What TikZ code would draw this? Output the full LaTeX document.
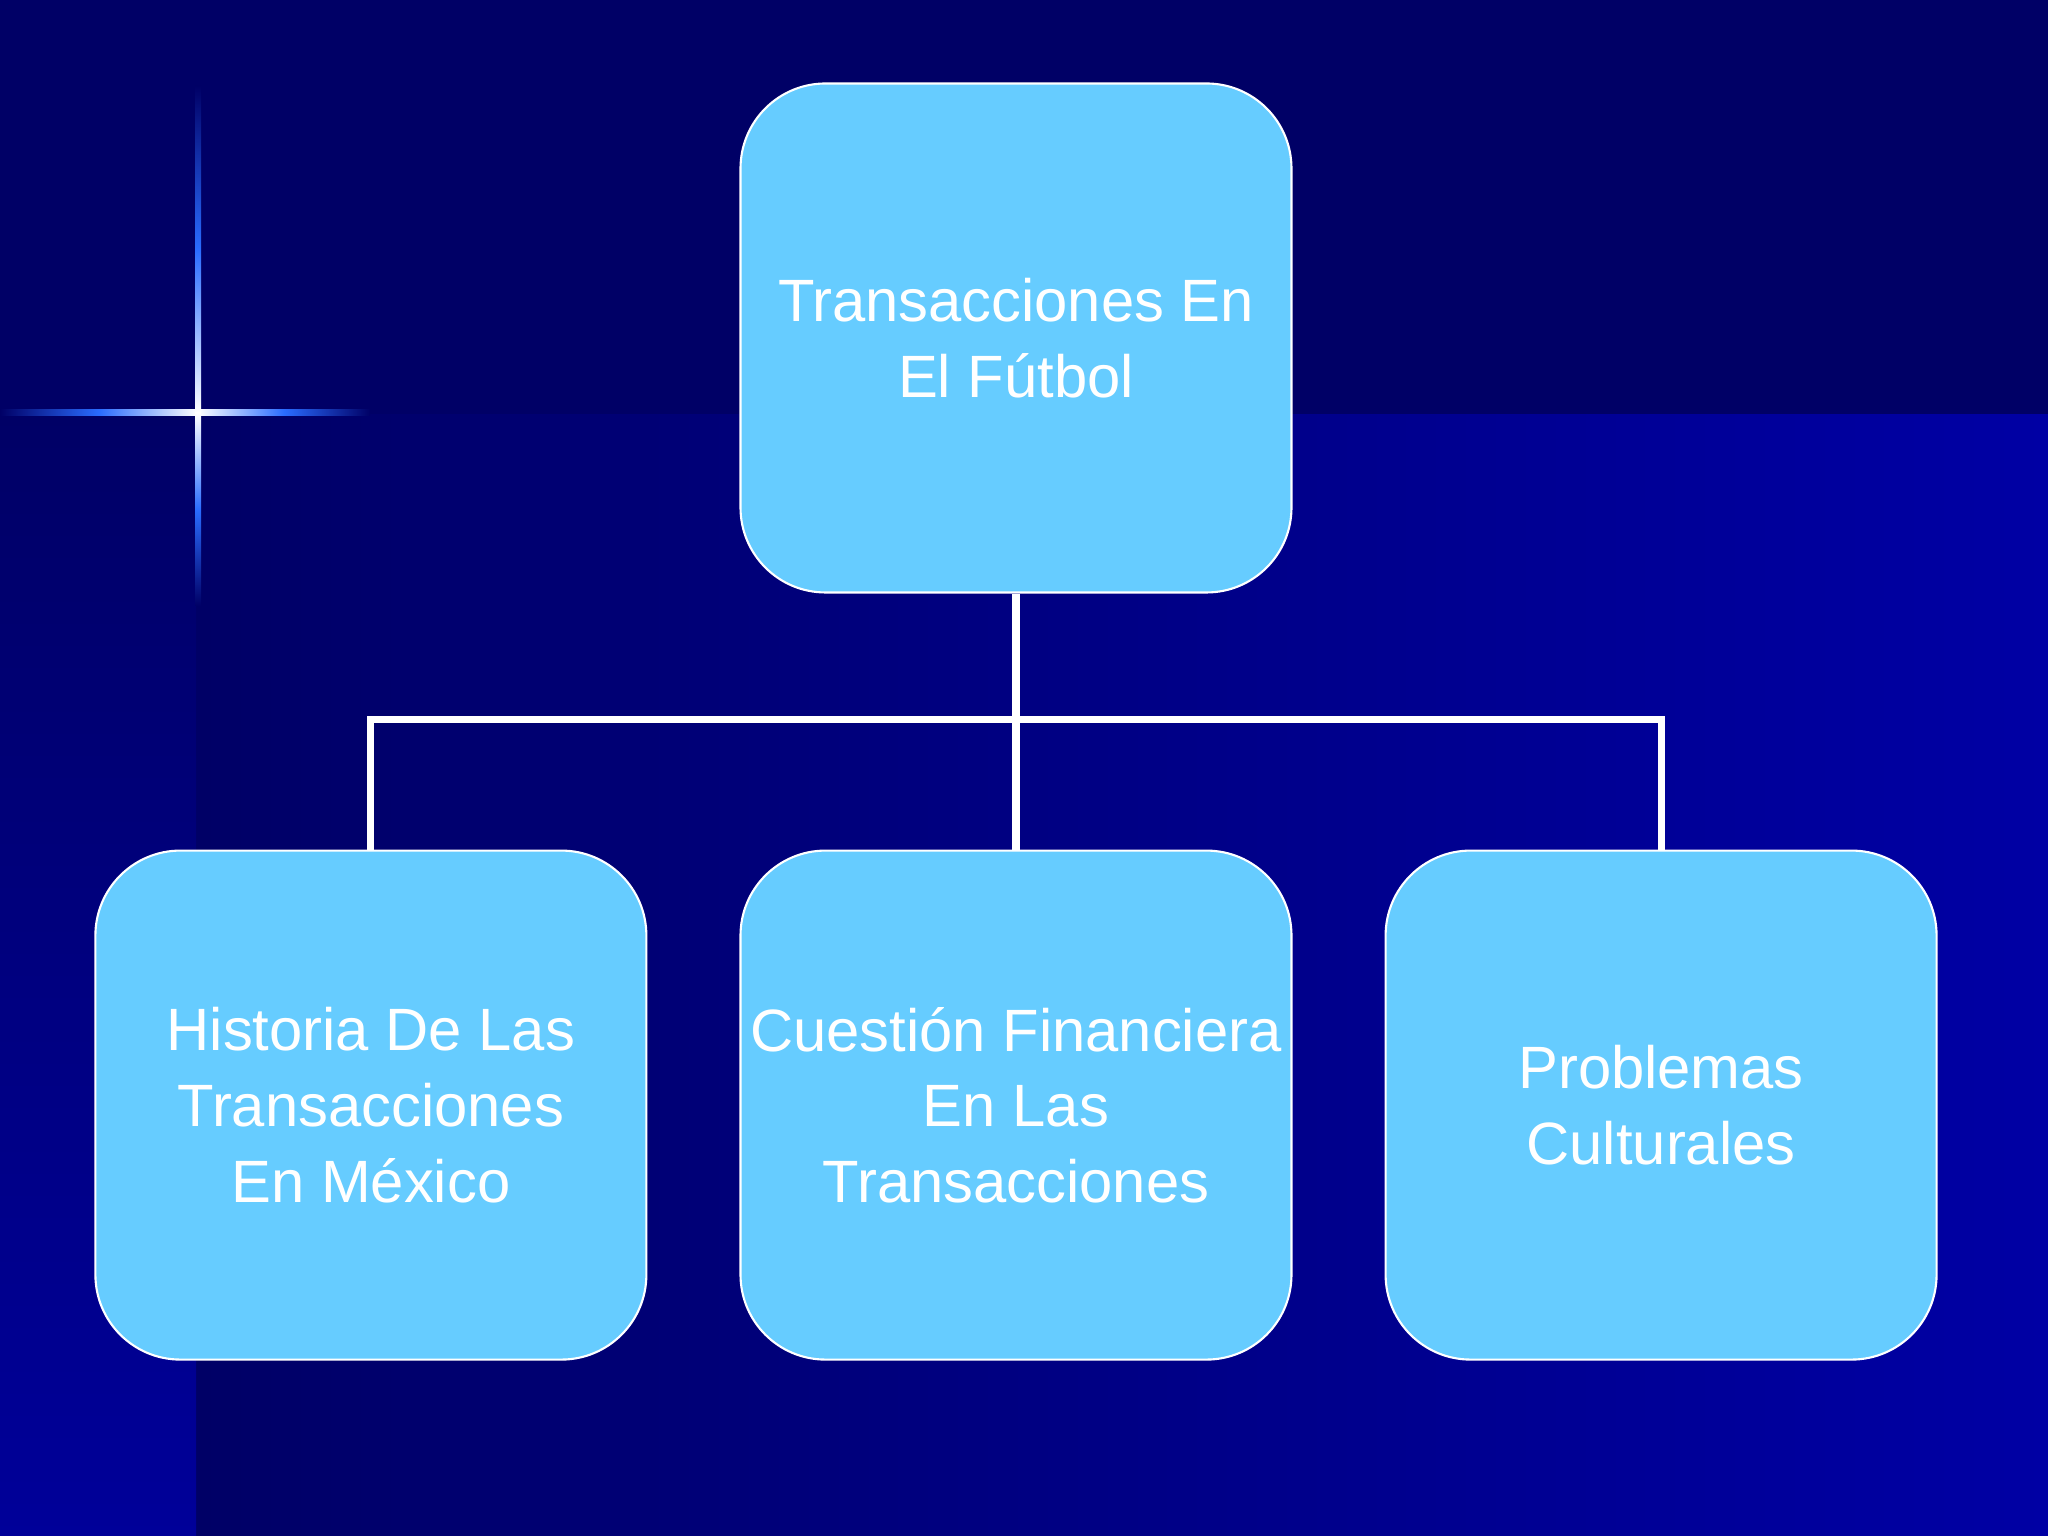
\documentclass[tikz,border=0pt]{standalone}
\usepackage{fontspec}
\setmainfont{Liberation Sans}
\usetikzlibrary{positioning}
\definecolor{navy}{HTML}{000066}
\definecolor{deepblue}{HTML}{0000A4}
\definecolor{stripblue}{HTML}{000099}
\definecolor{boxblue}{HTML}{66CCFF}
\definecolor{glow}{HTML}{2A6CFF}
\tikzset{
    topic/.style={draw=white, line width=0.6pt, fill=boxblue, rounded corners=0.85cm,
        minimum width=5.51cm, minimum height=5.09cm, inner sep=0pt, align=center,
        text=white, font=\fontsize{17}{21.5}\selectfont},
    link/.style={draw=white, line width=2pt}
}

\begin{document}
\begin{tikzpicture}
\useasboundingbox (0,0) rectangle (20.48,15.36);
% background
\fill[navy] (0,0) rectangle (20.48,15.36);
\shade[left color=navy, right color=deepblue] (1.96,0) rectangle (20.48,11.21);
\shade[top color=navy, bottom color=stripblue] (0,0) rectangle (1.96,11.21);
% star
\def\sx{1.98}
\def\sy{11.23}
\shade[left color=navy, right color=white, middle color=glow] (0,\sy-0.03) rectangle (\sx,\sy+0.03);
\shade[left color=white, right color=navy, middle color=glow] (\sx,\sy-0.03) rectangle (3.7,\sy+0.03);
\shade[top color=navy, bottom color=white, middle color=glow] (\sx-0.03,14.5) rectangle (\sx+0.03,\sy);
\shade[top color=white, bottom color=navy, middle color=glow] (\sx-0.03,\sy) rectangle (\sx+0.03,9.3);
% boxes
\node[topic] (top) at (10.16,11.98) {Transacciones En\\El Fútbol};
\node[topic, below=2.56cm of top] (fin) {Cuestión Financiera\\En Las\\Transacciones};
\node[topic, left=0.92cm of fin] (hist) {Historia De Las\\Transacciones\\En México};
\node[topic, right=0.92cm of fin] (cult) {Problemas\\Culturales};
% connectors
\coordinate (bar) at (10.16,8.164);
\draw[link] (top.south) -- (fin.north);
\draw[link] (hist.north) -- (hist.north |- bar) -- (cult.north |- bar) -- (cult.north);
\end{tikzpicture}
\end{document}
